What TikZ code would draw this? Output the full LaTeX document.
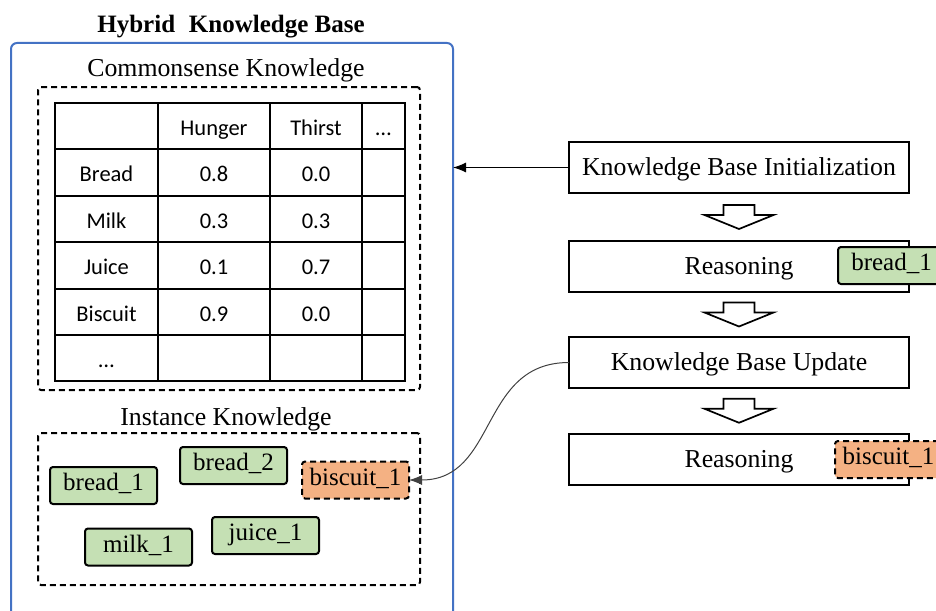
\documentclass[tikz,border=0pt]{standalone}
\usepackage{fontspec}
\setmainfont{Liberation Serif}
\newfontfamily\tabfont{Carlito}
\usetikzlibrary{arrows.meta,calc}
\definecolor{kbblue}{HTML}{4472C4}
\definecolor{instgreen}{HTML}{C5E0B4}
\definecolor{instorange}{HTML}{F4B183}
\tikzset{
  serif/.style={font=\fontsize{25.8}{30}\selectfont},
  cell/.style={font=\tabfont\fontsize{22.5}{27}\selectfont, anchor=base},
  grid/.style={line width=2pt},
  group/.style={draw, line width=2pt, rounded corners=3pt, dash pattern=on 6pt off 4pt},
  kbox/.style={draw, line width=2pt, minimum width=340pt, minimum height=51pt,
    serif, text height=18pt, text depth=2pt},
  inst/.style={draw, line width=2pt, rounded corners=3pt, fill=instgreen,
    minimum width=107pt, minimum height=37pt, font=\fontsize{25}{30}\selectfont,
    text height=15pt, text depth=5pt},
  newinst/.style={inst, fill=instorange, dash pattern=on 6pt off 4pt},
  link/.style={line width=1pt, -{Latex[length=13pt,width=10pt]}},
  hollowdown/.pic={
    \draw[line width=1.7pt, fill=white, line join=miter]
      (-15.5,-12) -- (15.5,-12) -- (15.5,-2) -- (34.5,-2) -- (0,12)
      -- (-34.5,-2) -- (-15.5,-2) -- cycle;
  }
}
\begin{document}
\begin{tikzpicture}[x=1pt, y=-1pt, every node/.style={inner sep=0pt, outer sep=0pt}]
\useasboundingbox (0,0) rectangle (936,610);
\clip (0,0) rectangle (936,610);

% hybrid knowledge base frame
\node[font=\bfseries\fontsize{25}{30}\selectfont, anchor=base] (title) at (231,33)
  {Hybrid\hspace{0.3em} Knowledge Base};
\node[draw=kbblue, line width=2pt, rounded corners=6pt, minimum width=442pt,
  minimum height=580pt, anchor=north west] (hkb) at (11,43) {};

% commonsense knowledge table
\node[serif, anchor=base] (cslabel) at (226,77) {Commonsense Knowledge};
\node[group, minimum width=382pt, minimum height=303pt, anchor=north west] (cs) at (38,87) {};
\draw[grid] (55,103) rectangle (405,381);
\foreach \x in {158,270,362} \draw[grid] (\x,103) -- (\x,381);
\foreach \y in {149,196,242,289,335} \draw[grid] (55,\y) -- (405,\y);

\node[cell] (h1) at (214,135) {Hunger};
\node[cell] (h2) at (316,135) {Thirst};
\node[cell] (h3) at (383.5,135) {…};
\node[cell] (r1a) at (106.5,181.5) {Bread};
\node[cell] (r1b) at (214,181.5) {0.8};
\node[cell] (r1c) at (316,181.5) {0.0};
\node[cell] (r2a) at (106.5,228) {Milk};
\node[cell] (r2b) at (214,228) {0.3};
\node[cell] (r2c) at (316,228) {0.3};
\node[cell] (r3a) at (106.5,274.5) {Juice};
\node[cell] (r3b) at (214,274.5) {0.1};
\node[cell] (r3c) at (316,274.5) {0.7};
\node[cell] (r4a) at (106.5,321) {Biscuit};
\node[cell] (r4b) at (214,321) {0.9};
\node[cell] (r4c) at (316,321) {0.0};
\node[cell] (r5a) at (106.5,367) {…};

% instance knowledge
\node[serif, anchor=base] (inlabel) at (226,425) {Instance Knowledge};
\node[group, minimum width=382pt, minimum height=152pt, anchor=north west] (ik) at (38,433) {};
\node[inst] (bread1) at (103.5,485.5) {bread\_1};
\node[inst] (bread2) at (233.5,465.5) {bread\_2};
\node[newinst] (bis) at (355.5,480) {biscuit\_1};
\node[inst] (milk1) at (138.5,547) {milk\_1};
\node[inst] (juice1) at (265.5,535.5) {juice\_1};

% process steps
\node[kbox] (init) at (739,167.5) {Knowledge Base Initialization};
\node[kbox] (reas1) at (739,266.5) {Reasoning};
\node[kbox] (upd) at (739,362.5) {Knowledge Base Update};
\node[kbox] (reas2) at (739,459) {Reasoning};
\node[inst] (tag1) at (891.5,265.5) {bread\_1};
\node[newinst] (tag2) at (888.5,459.5) {biscuit\_1};

\pic at ($(init.south)!0.5!(reas1.north)$) {hollowdown};
\pic at ($(reas1.south)!0.5!(upd.north)$) {hollowdown};
\pic at ($(upd.south)!0.5!(reas2.north)$) {hollowdown};

% connectors
\draw[link] (init.west) -- (init.west -| hkb.east);
\draw[link, draw=black!75] (upd.west) .. controls +(-90,0) and +(89,0) .. (bis.east);
\end{tikzpicture}
\end{document}
